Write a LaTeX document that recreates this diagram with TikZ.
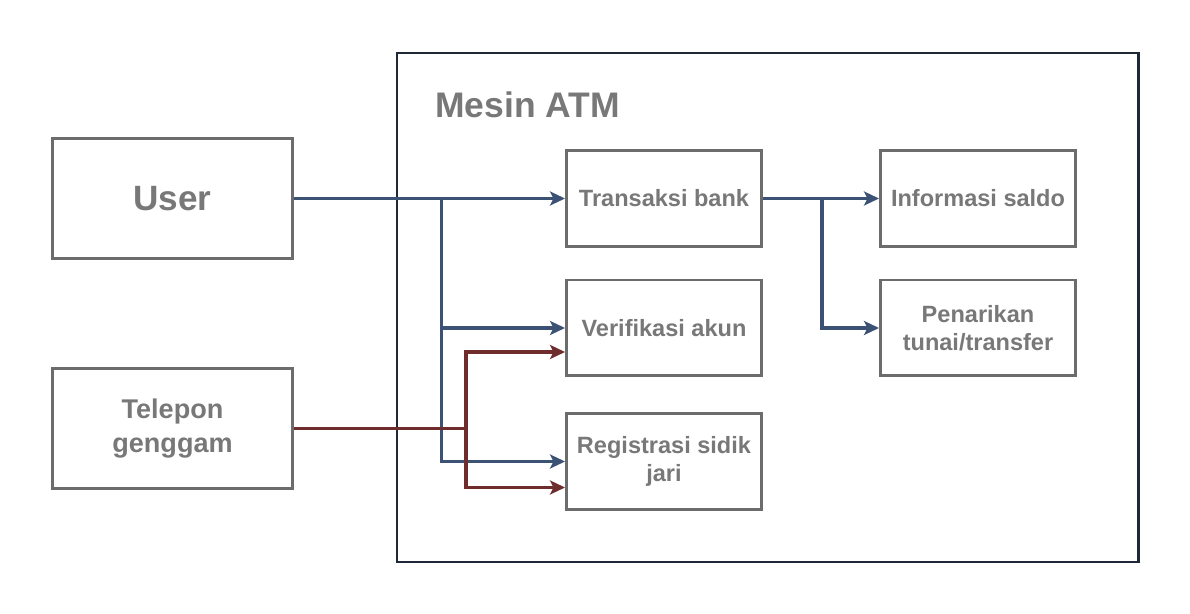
\documentclass[tikz,border=0pt]{standalone}
\usepackage{fontspec}
\setmainfont{Liberation Sans}
\usetikzlibrary{arrows.meta,positioning,calc}
\definecolor{atmInk}{HTML}{1E2838}
\definecolor{atmGray}{HTML}{6C6C6C}
\definecolor{atmText}{HTML}{787878}
\definecolor{atmBlue}{HTML}{3B5274}
\definecolor{atmRed}{HTML}{6E2C2C}
\tikzset{
  box/.style      ={draw=atmGray,line width=1.7pt,fill=white,align=center,
                    text=atmText,font=\fontsize{13.4}{16}\selectfont\bfseries,
                    inner sep=2pt},
  fnbox/.style    ={box,minimum width=39mm,minimum height=19.2mm},
  actorbox/.style ={box,minimum width=48.2mm,minimum height=24.2mm},
  frame/.style    ={draw=atmInk,line width=1.7pt},
  flowU/.style    ={-{Stealth[length=3mm,width=2.8mm,inset=0.7mm]},atmBlue,
                    line width=1.8pt},
  flowP/.style    ={flowU,atmRed},
  ttl/.style      ={font=\fontsize{20.2}{24}\selectfont\bfseries,text=atmText,
                    inner sep=0pt},
}
\begin{document}
\begin{tikzpicture}[x=0.02cm,y=-0.02cm]
\useasboundingbox (0,0) rectangle (1190,614);
%% machine frame
\draw[frame] (397,53) rectangle (1138,562);
\node[ttl,anchor=base west] (atm) at (435,118) {Mesin ATM};
%% actors
\node[actorbox,font=\fontsize{20}{24}\selectfont\bfseries] (user) at (172.5,198.5) {User};
\node[actorbox,font=\fontsize{15.4}{19}\selectfont\bfseries] (hp) at (172.5,428.5)
  {Telepon\\genggam};
%% functions
\node[fnbox] (tb) at (664,198.5) {Transaksi bank};
\node[fnbox] (va) at (664,328)   {Verifikasi akun};
\node[fnbox] (rs) at (664,461.5) {Registrasi sidik\\jari};
\node[fnbox] (is) at (978,198.5) {Informasi saldo};
\node[fnbox] (pt) at (978,328)   {Penarikan\\tunai/transfer};
%% junctions
\coordinate (jU) at (441.5,198.5);
\coordinate (jP) at (466,428.5);
\coordinate (jT) at (822,198.5);
%% user links
\draw[flowU] (user.east) -- (tb.west);
\draw[flowU] (jU) |- (va.west);
\draw[flowU] (jU) |- (rs.west);
%% phone links
\draw[flowP] (hp.east) -- (jP) |- ([yshift=-4.8mm]va.west);
\draw[flowP] (jP) |- ([yshift=-5.2mm]rs.west);
%% bank links
\draw[flowU] (tb.east) -- (is.west);
\draw[flowU] (jT) |- (pt.west);
\end{tikzpicture}
\end{document}
